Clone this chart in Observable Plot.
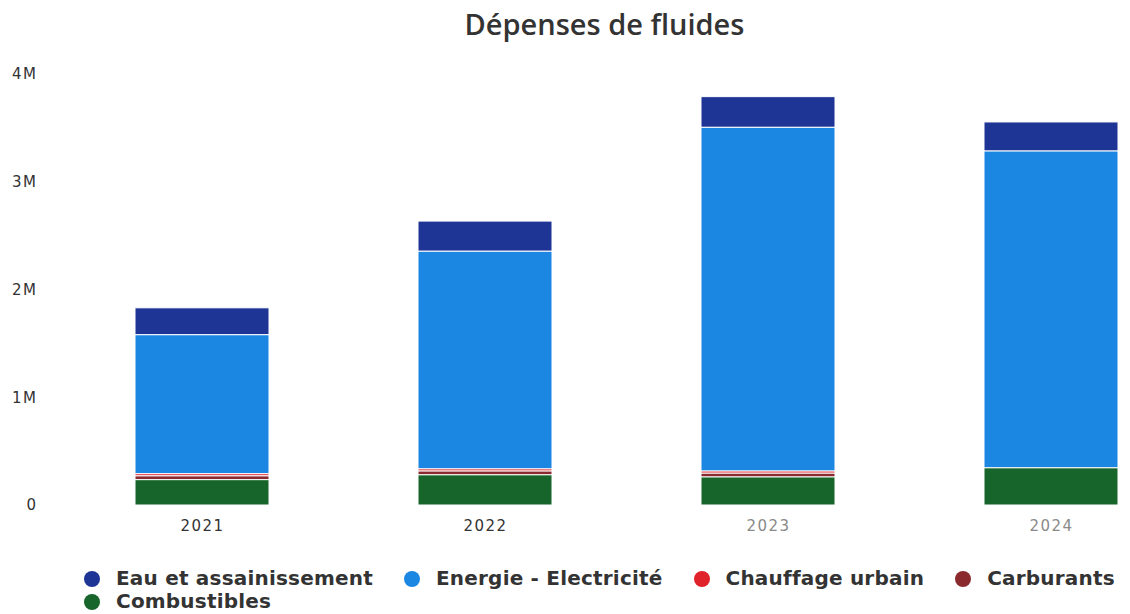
<!DOCTYPE html>
<html>
<head>
<meta charset="utf-8">
<script src="https://cdn.jsdelivr.net/npm/d3@7"></script>
<script src="https://cdn.jsdelivr.net/npm/@observablehq/plot@0.6"></script>
<style>
  html, body { margin: 0; padding: 0; background: #fff; width: 1130px; height: 614px; overflow: hidden; }
  #title { position: absolute; left: 0; top: 0; width: 1209px; height: 45px; text-align: center;
    font-family: "Open Sans", sans-serif; font-size: 29px; font-weight: 600; color: #333; line-height: 48px; }
  #chart { position: absolute; left: 0; top: 45px; }
  .legend-row { position: absolute; left: 84px; display: flex; gap: 31px; white-space: nowrap;
    font-family: "DejaVu Sans", sans-serif; font-weight: bold; font-size: 20px; letter-spacing: 0.2px; color: #333; line-height: 23px; }
  .item { display: flex; align-items: center; gap: 16px; }
  .dot { width: 16px; height: 16px; border-radius: 50%; display: inline-block; }
</style>
</head>
<body>
<div id="title">Dépenses de fluides</div>
<div id="chart"></div>
<div class="legend-row" id="row1" style="top:567px"></div>
<div class="legend-row" id="row2" style="top:590px"></div>
<script>
const years = ["2021", "2022", "2023", "2024"];
const seriesNames = ["Eau et assainissement", "Energie - Electricité", "Chauffage urbain", "Carburants", "Combustibles"];
const seriesColors = ["#1f3596", "#1c87e2", "#e0222b", "#8a2a2e", "#17652a"];
// values in euros, per series, per year
const eau          = [250000, 280000, 285000, 270000];
const energie      = [1290000, 2020000, 3190000, 2940000];
const chauffage    = [20000, 20000, 20000, 0];
const carburants   = [35000, 35000, 35000, 0];
const combustibles = [235000, 280000, 260000, 345000];
const yTicks = [0, 1000000, 2000000, 3000000, 4000000];

const seriesValues = [eau, energie, chauffage, carburants, combustibles];
// stacking order bottom -> top
const stackOrder = ["Combustibles", "Carburants", "Chauffage urbain", "Energie - Electricité", "Eau et assainissement"];
const data = [];
years.forEach((y, i) => {
  seriesNames.forEach((s, j) => data.push({year: y, series: s, value: seriesValues[j][i]}));
});

const chart = Plot.plot({
  width: 1130,
  height: 510,
  marginLeft: 40,
  marginRight: 0,
  marginTop: 29,
  marginBottom: 50,
  style: {fontFamily: "DejaVu Sans, sans-serif", fontSize: "15px", color: "#333", background: "white", letterSpacing: "1.5px"},
  x: {domain: years, range: [59.5, 1194.5], paddingInner: 0.525, paddingOuter: 0.2625, label: null},
  y: {domain: [0, 4000000], range: [460, 29], label: null},
  color: {domain: seriesNames, range: seriesColors},
  marks: [
    Plot.barY(data, Plot.stackY({order: stackOrder}, {
      x: "year", y: "value", fill: "series", stroke: "white", strokeWidth: 1
    })),
    Plot.axisY({ticks: yTicks, tickSize: 0, tickPadding: 3, fontSize: 15, fill: "#333",
      tickFormat: d => d === 0 ? "0" : d / 1e6 + "M", label: null}),
    Plot.axisX({tickSize: 0, tickPadding: 15, fontSize: 15, label: null,
      fill: d => (d === "2023" || d === "2024") ? "#8a8a8a" : "#333"})
  ]
});
document.getElementById("chart").appendChild(chart);

function addItem(row, name) {
  const idx = seriesNames.indexOf(name);
  const item = document.createElement("div");
  item.className = "item";
  const dot = document.createElement("span");
  dot.className = "dot";
  dot.style.background = seriesColors[idx];
  const label = document.createElement("span");
  label.textContent = name;
  item.appendChild(dot);
  item.appendChild(label);
  document.getElementById(row).appendChild(item);
}
seriesNames.slice(0, 4).forEach(n => addItem("row1", n));
addItem("row2", seriesNames[4]);
</script>
</body>
</html>
